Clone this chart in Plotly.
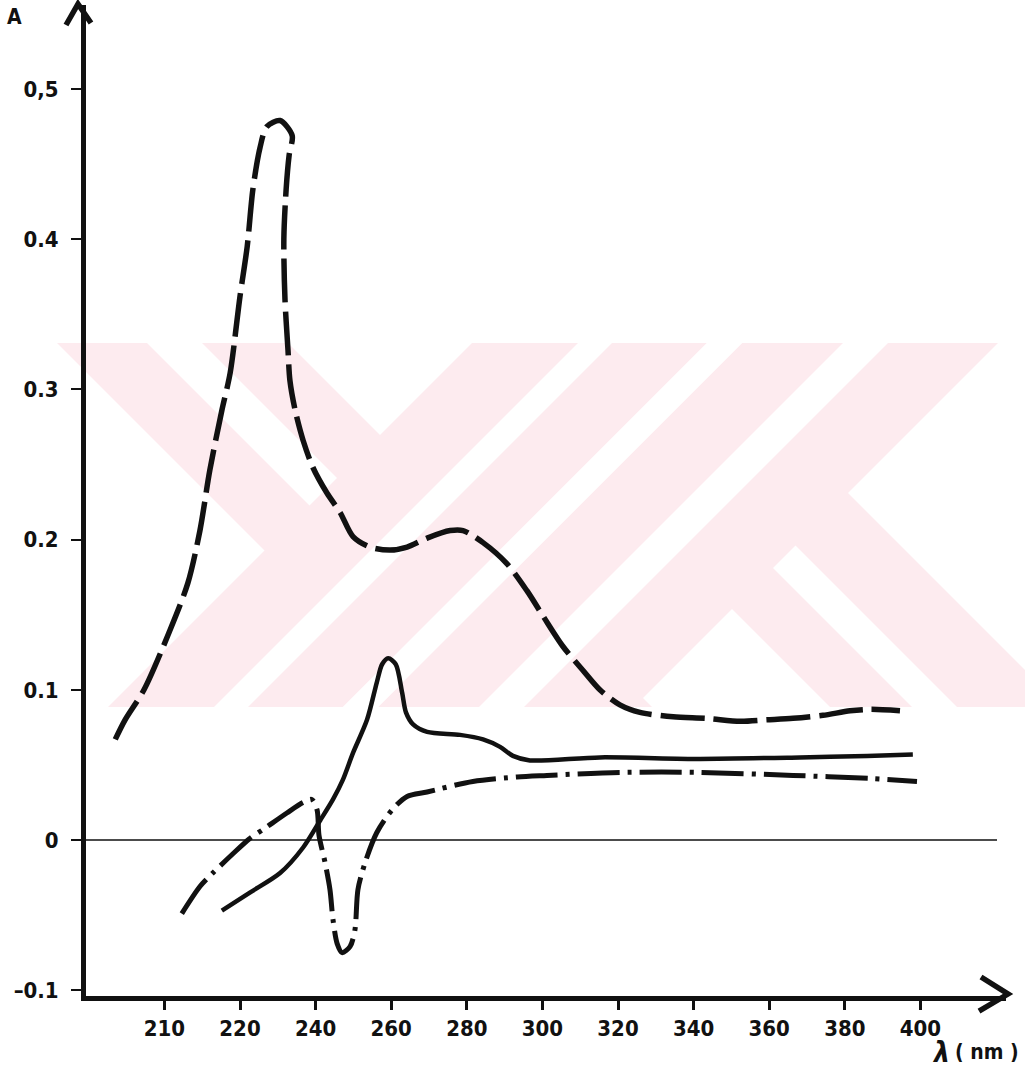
import numpy as np
import plotly.graph_objects as go

# ---------------------------------------------------------------
# Spectra: wavelength (nm) and absorbance A
# ---------------------------------------------------------------
dashed_nm = [203.5, 204.8, 207.3, 210.6, 213.1, 214.7, 216.0, 217.6, 218.7, 220.0,
             221.9, 223.4, 225.3, 227.1, 230.6, 233.8, 233.0, 232.2, 231.6, 231.9,
             232.7, 233.2, 234.6, 236.7, 239.3, 243.0, 246.5, 249.9, 254.4, 259.7,
             264.2, 269.5, 275.6, 279.0, 284.3, 290.6, 295.9, 300.2, 305.4, 310.7,
             315.2, 320.5, 325.8, 334.6, 343.5, 352.3, 359.4, 366.3, 374.2, 381.4,
             386.7, 394.6]
dashed_abs = [0.067, 0.080, 0.100, 0.138, 0.171, 0.206, 0.246, 0.286, 0.311, 0.362,
              0.395, 0.433, 0.461, 0.475, 0.479, 0.469, 0.456, 0.433, 0.400, 0.360,
              0.326, 0.306, 0.286, 0.266, 0.248, 0.231, 0.218, 0.202, 0.195, 0.193,
              0.195, 0.201, 0.206, 0.206, 0.198, 0.184, 0.166, 0.149, 0.129, 0.113,
              0.100, 0.090, 0.085, 0.082, 0.081, 0.079, 0.080, 0.081, 0.083, 0.086,
              0.087, 0.086]

solid_nm = [217.6, 222.6, 230.6, 236.7, 241.2, 244.6, 247.2, 249.9, 253.6, 256.2,
            257.6, 259.2, 261.2, 262.9, 263.9, 265.8, 269.5, 278.2, 284.3, 288.8,
            292.2, 296.7, 315.2, 341.7, 368.1, 385.9, 398.0]
solid_abs = [-0.047, -0.035, -0.022, -0.005, 0.013, 0.027, 0.040, 0.058, 0.080, 0.105,
             0.117, 0.121, 0.117, 0.098, 0.085, 0.077, 0.072, 0.070, 0.067, 0.062,
             0.056, 0.053, 0.055, 0.054, 0.055, 0.056, 0.057]

dashdot_nm = [212.3, 214.7, 216.4, 219.1, 222.6, 226.1, 232.4, 236.7, 239.0, 240.4,
              240.9, 242.5, 243.8, 244.6, 245.7, 247.0, 249.1, 250.4, 251.2, 253.1,
              256.2, 260.2, 264.2, 269.5, 281.6, 293.3, 301.2, 320.5, 341.7, 366.3,
              386.7, 399.1]
dashdot_abs = [-0.049, -0.031, -0.022, -0.009, 0.001, 0.007, 0.018, 0.025, 0.027, 0.020,
               0.003, -0.015, -0.033, -0.053, -0.069, -0.075, -0.071, -0.060, -0.033, -0.015,
               0.005, 0.020, 0.029, 0.032, 0.039, 0.042, 0.043, 0.045, 0.045, 0.043,
               0.041, 0.039]

# axis ticks
tick_nm = [210, 220, 240, 260, 280, 300, 320, 340, 360, 380, 400]
tick_nm_text = [str(t) for t in tick_nm]
abs_ticks = [-0.1, 0, 0.1, 0.2, 0.3, 0.4, 0.5]
abs_tick_text = ["\u20130.1", "0", "0.1", "0.2", "0.3", "0.4", "0,5"]

# The recorder abscissa is linear in nm above 220 nm, while the
# 200-220 nm stretch is drawn at double scale.
SCALE_NM = [190, 220, 440]
SCALE_POS = [160, 220, 440]


def to_axis(nm):
    return np.interp(np.asarray(nm, dtype=float), SCALE_NM, SCALE_POS)


# ---------------------------------------------------------------
# page geometry (pixels)
# ---------------------------------------------------------------
W, H = 1025, 1068
ML, MR, MT, MB = 86, 19, 5, 72
PW, PH = W - ML - MR, H - MT - MB


def paper(x, y):
    """pixel position on the page -> paper coordinates"""
    return (x - ML) / PW, (H - MB - y) / PH


FONT = "Liberation Sans Narrow, DejaVu Sans Condensed, Arial Narrow, sans-serif"
INK = "#111111"

fig = go.Figure()

# faint pink emblem in the background, built from 45-degree bands
EMBLEM_BOX = (55, 1025, 343, 707)
EMBLEM_PINK = "#fdebef"
emblem_parts = [
    (EMBLEM_PINK, [("d", -286, -55)]),
    (EMBLEM_PINK, [("s", 815, 1050)]),
    (EMBLEM_PINK, [("s", 1085, 1341)]),
    (EMBLEM_PINK, [("d", 123, 355), ("s", 1300, 5000)]),
    ("#ffffff", [("d", -196, -141), ("s", -5000, 815)]),
    ("#ffffff", [("s", 921, 955)]),
    ("#ffffff", [("s", 1050, 1085)]),
    ("#ffffff", [("s", 1186, 1231)]),
    ("#ffffff", [("d", 205, 250), ("s", 1341, 5000)]),
]


def clip(poly, a, b, c):
    out = []
    n = len(poly)
    for i in range(n):
        p, q = poly[i], poly[(i + 1) % n]
        fp = a * p[0] + b * p[1] - c
        fq = a * q[0] + b * q[1] - c
        if fp <= 0:
            out.append(p)
        if (fp < 0 < fq) or (fq < 0 < fp):
            t = fp / (fp - fq)
            out.append((p[0] + t * (q[0] - p[0]), p[1] + t * (q[1] - p[1])))
    return out


x0b, x1b, y0b, y1b = EMBLEM_BOX
for color, limits in emblem_parts:
    poly = [(x0b, y0b), (x1b, y0b), (x1b, y1b), (x0b, y1b)]
    for kind, lo, hi in limits:
        if kind == "d":      # lo <= x - y <= hi
            poly = clip(poly, -1, 1, -lo)
            poly = clip(poly, 1, -1, hi)
        else:                # lo <= x + y <= hi
            poly = clip(poly, -1, -1, -lo)
            poly = clip(poly, 1, 1, hi)
    if len(poly) < 3:
        continue
    pts = [paper(x, y) for x, y in poly]
    path = "M " + " L ".join(f"{px:.5f},{py:.5f}" for px, py in pts) + " Z"
    fig.add_shape(type="path", path=path, xref="paper", yref="paper",
                  fillcolor=color, line=dict(width=0), layer="below")

# thin baseline at A = 0
z_end, _ = paper(997, 0)
fig.add_shape(type="line", xref="paper", yref="y", x0=0, x1=z_end, y0=0, y1=0,
              line=dict(color=INK, width=1.6), layer="above")

# spectra
fig.add_trace(go.Scatter(
    x=to_axis(dashed_nm), y=dashed_abs, mode="lines",
    line=dict(color=INK, width=5.5, dash="44px,9px", shape="spline", smoothing=0.8),
    showlegend=False, hoverinfo="skip"))
fig.add_trace(go.Scatter(
    x=to_axis(solid_nm), y=solid_abs, mode="lines",
    line=dict(color=INK, width=4.5, shape="spline", smoothing=0.8),
    showlegend=False, hoverinfo="skip"))
fig.add_trace(go.Scatter(
    x=to_axis(dashdot_nm), y=dashdot_abs, mode="lines",
    line=dict(color=INK, width=5, dash="42px,8px,4px,8px", shape="spline", smoothing=0.8),
    showlegend=False, hoverinfo="skip"))

# arrow heads on both axes
for pts in ([(66, 25), (78, 4), (91, 23)], [(981, 977), (1008, 994), (979, 1011)]):
    pp = [paper(x, y) for x, y in pts]
    path = "M " + " L ".join(f"{px:.5f},{py:.5f}" for px, py in pp)
    fig.add_shape(type="path", path=path, xref="paper", yref="paper",
                  line=dict(color=INK, width=5.5), layer="above")

# axis captions
ax, ay = paper(14, 17)
fig.add_annotation(x=ax, y=ay, xref="paper", yref="paper", text="<b>A</b>",
                   showarrow=False, xanchor="center", yanchor="middle",
                   font=dict(family=FONT, size=21, color=INK))
lx, ly = paper(941, 1052)
fig.add_annotation(x=lx, y=ly, xref="paper", yref="paper", text="<b><i>\u03bb</i></b>",
                   showarrow=False, xanchor="center", yanchor="middle",
                   font=dict(family=FONT, size=28, color=INK))
nx, ny = paper(987, 1052)
fig.add_annotation(x=nx, y=ny, xref="paper", yref="paper", text="<b>( nm )</b>",
                   showarrow=False, xanchor="center", yanchor="middle",
                   font=dict(family=FONT, size=21, color=INK))

x_lo = 220 + (ML - 240) / 3.78
x_hi = 220 + (W - MR - 240) / 3.78
y_hi = (840 - MT) / 1502
y_lo = (840 - (H - MB)) / 1502

fig.update_layout(
    width=W, height=H,
    margin=dict(l=ML, r=MR, t=MT, b=MB, pad=0),
    paper_bgcolor="white", plot_bgcolor="rgba(0,0,0,0)",
    xaxis=dict(range=[x_lo, x_hi], tickmode="array",
               tickvals=to_axis(tick_nm), ticktext=tick_nm_text,
               ticks="outside", ticklen=9, tickwidth=2.5, tickcolor=INK,
               showline=True, linewidth=5, linecolor=INK,
               showgrid=False, zeroline=False, ticklabelstandoff=0,
               tickfont=dict(family=FONT, size=22, color=INK, weight="bold")),
    yaxis=dict(range=[y_lo, y_hi], tickmode="array",
               tickvals=abs_ticks, ticktext=abs_tick_text,
               ticks="outside", ticklen=10, tickwidth=1.6, tickcolor=INK,
               showline=True, linewidth=5, linecolor=INK,
               showgrid=False, zeroline=False,
               ticklabelstandoff=8,
               tickfont=dict(family=FONT, size=22, color=INK, weight="bold")),
)

fig.write_html("out.html")
